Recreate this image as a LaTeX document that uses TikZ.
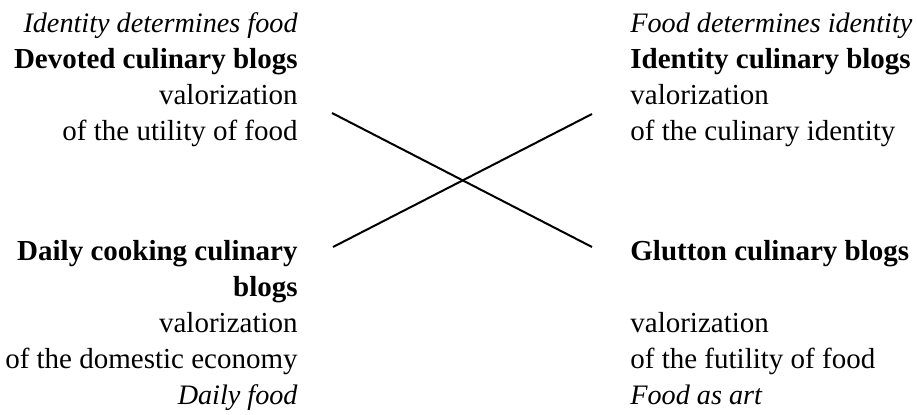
\documentclass[tikz,border=0pt]{standalone}
\usepackage{fontspec}
\setmainfont{Liberation Serif}
\usetikzlibrary{positioning}
\newcommand\itl[1]{{\fontsize{14.1}{18}\selectfont\itshape #1}}

\begin{document}
\begin{tikzpicture}[x=0.5pt,y=-0.5pt,
 txt/.style={inner sep=0pt,font=\fontsize{14.5}{18}\selectfont},
 lft/.style={txt,align=right,anchor=base east},
 rgt/.style={txt,align=left,anchor=base west},
 cross/.style={line width=1pt}]
 \useasboundingbox (0,0) rectangle (917,414);
 \node[lft] (devoted) at (298,140) {\itl{Identity determines food}\\\textbf{Devoted culinary blogs}\\valorization\\of the utility of food};
 \node[rgt] (identity) at (630,140) {\itl{Food determines identity}\\\textbf{Identity culinary blogs}\\valorization\\of the culinary identity};
 \node[lft] (daily) at (298,404) {\textbf{Daily cooking culinary}\\\textbf{blogs}\\valorization\\of the domestic economy\\\itl{Daily food}};
 \node[rgt] (glutton) at (630,404) {\textbf{Glutton culinary blogs}\\[18pt]valorization\\of the futility of food\\\itl{Food as art}};
 % ends of the two crossing lines
 \coordinate (dev-end) at (332,113);
 \coordinate (glu-end) at (592,247);
 \coordinate (day-end) at (333,247);
 \coordinate (ide-end) at (592,114);
 \draw[cross] (dev-end) -- (glu-end);
 \draw[cross] (day-end) -- (ide-end);
\end{tikzpicture}
\end{document}
